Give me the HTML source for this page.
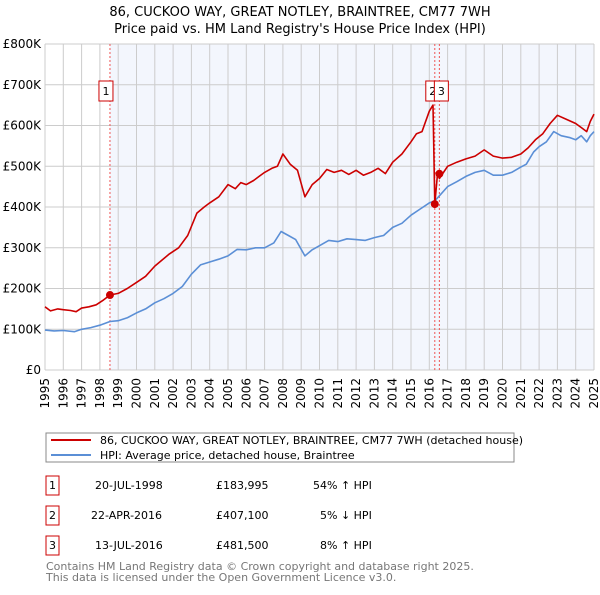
<!DOCTYPE html>
<html><head><meta charset="utf-8"><style>
body{margin:0;background:#fff;font-family:"Liberation Sans","DejaVu Sans",sans-serif;}
svg text{font-family:"DejaVu Sans","Liberation Sans",sans-serif;}
</style></head><body>
<svg id="c" width="600" height="590" xmlns="http://www.w3.org/2000/svg">
<text x="300" y="16" text-anchor="middle" font-size="13" fill="#000">86, CUCKOO WAY, GREAT NOTLEY, BRAINTREE, CM77 7WH</text>
<text x="300" y="33" text-anchor="middle" font-size="13" fill="#000">Price paid vs. HM Land Registry's House Price Index (HPI)</text>
<g id="plot"></g>
<g>
<rect x="46" y="433" width="468" height="29" fill="#fff" stroke="#888"/>
<line x1="51" y1="440" x2="91" y2="440" stroke="#cc0000" stroke-width="2"/>
<text x="100" y="444" font-size="11">86, CUCKOO WAY, GREAT NOTLEY, BRAINTREE, CM77 7WH (detached house)</text>
<line x1="51" y1="455" x2="91" y2="455" stroke="#5b8fd6" stroke-width="2"/>
<text x="100" y="459" font-size="11">HPI: Average price, detached house, Braintree</text>
</g>
<g font-size="11">
<rect x="46" y="476" width="13" height="19" fill="#fff" stroke="#cc0000"/><text x="52.5" y="489" text-anchor="middle">1</text>
<text x="95" y="489">20-JUL-1998</text><text x="216" y="489">£183,995</text><text x="313" y="489">54% ↑ HPI</text>
<rect x="46" y="506" width="13" height="19" fill="#fff" stroke="#cc0000"/><text x="52.5" y="519" text-anchor="middle">2</text>
<text x="91" y="519">22-APR-2016</text><text x="216" y="519">£407,100</text><text x="320" y="519">5% ↓ HPI</text>
<rect x="46" y="536" width="13" height="19" fill="#fff" stroke="#cc0000"/><text x="52.5" y="549" text-anchor="middle">3</text>
<text x="95" y="549">13-JUL-2016</text><text x="216" y="549">£481,500</text><text x="320" y="549">8% ↑ HPI</text>
</g>
<text x="46" y="570" font-size="11" fill="#777">Contains HM Land Registry data © Crown copyright and database right 2025.</text>
<text x="46" y="581" font-size="11" fill="#777">This data is licensed under the Open Government Licence v3.0.</text>
</svg>
<script>
const yTicks=[0,100,200,300,400,500,600,700,800];
const yTickLabels=["£0","£100K","£200K","£300K","£400K","£500K","£600K","£700K","£800K"];
const years=[1995,1996,1997,1998,1999,2000,2001,2002,2003,2004,2005,2006,2007,2008,2009,2010,2011,2012,2013,2014,2015,2016,2017,2018,2019,2020,2021,2022,2023,2024,2025];
const hpiT=[1995,1995.5,1996,1996.6,1997,1997.5,1998,1998.55,1999,1999.5,2000,2000.5,2001,2001.5,2002,2002.5,2003,2003.5,2004,2004.5,2005,2005.5,2006,2006.5,2007,2007.5,2007.9,2008.3,2008.7,2009.2,2009.6,2010,2010.5,2011,2011.5,2012,2012.5,2013,2013.5,2014,2014.5,2015,2015.5,2016,2016.3,2016.6,2017,2017.5,2018,2018.5,2019,2019.5,2020,2020.5,2021,2021.3,2021.7,2022,2022.4,2022.8,2023.2,2023.7,2024,2024.3,2024.6,2024.8,2025];
const hpiV=[98,96,97,94,100,104,110,119,121,128,140,150,165,175,188,205,235,258,265,272,280,296,295,300,300,312,340,330,320,280,295,305,318,315,322,320,318,325,330,350,360,380,395,410,415,430,450,462,475,485,490,478,478,485,498,505,535,548,560,585,575,570,565,575,560,575,585];
const redT=[1995,1995.3,1995.7,1996,1996.4,1996.7,1997,1997.4,1997.8,1998.2,1998.55,1999,1999.5,2000,2000.5,2001,2001.4,2001.8,2002.3,2002.8,2003.3,2003.7,2004,2004.5,2005,2005.4,2005.7,2006,2006.4,2006.7,2007,2007.4,2007.7,2008,2008.4,2008.8,2009.2,2009.6,2010,2010.4,2010.8,2011.2,2011.6,2012,2012.4,2012.8,2013.2,2013.6,2014,2014.5,2015,2015.3,2015.6,2016,2016.2,2016.3,2016.45,2016.55,2017,2017.5,2018,2018.5,2019,2019.5,2020,2020.5,2021,2021.4,2021.8,2022.2,2022.6,2023,2023.5,2024,2024.3,2024.6,2024.8,2025];
const redV=[155,145,150,148,146,143,152,155,160,172,184,188,200,215,230,255,270,285,300,330,385,400,410,425,455,445,460,455,465,475,485,495,500,530,505,490,425,455,470,492,485,490,480,490,478,485,495,482,510,530,560,580,585,635,650,407,481,470,500,510,518,525,540,525,520,522,530,545,565,580,605,625,615,605,595,585,610,628];
const sales=[[1998.55,184.0,"1"],[2016.3,407.1,"2"],[2016.55,481.5,"3"]];
const X0=45,X1=594,Y0=370,Y1=44;
const xs=t=>X0+(t-1995)/(2025-1995)*(X1-X0);
const ys=v=>Y0-v/800*(Y0-Y1);
const NS="http://www.w3.org/2000/svg";
const g=document.getElementById('plot');
function mk(tag,attrs,parent){const e=document.createElementNS(NS,tag);for(const k in attrs)e.setAttribute(k,attrs[k]);(parent||g).appendChild(e);return e;}
let e=mk('rect',{x:xs(sales[0][0]),y:Y1,width:X1-xs(sales[0][0]),height:Y0-Y1,fill:'#f3f6fd'});


years.forEach((yr,i)=>{
 const l=mk('line',{x1:xs(yr),x2:xs(yr),y1:Y1,y2:Y0,stroke:'#cccccc','stroke-width':1});
 
 
 const t=mk('text',{x:0,y:0,'font-size':12,'text-anchor':'end',transform:`translate(${xs(yr)+4},${Y0+8}) rotate(-90)`});
 t.textContent=yr;
 
 
});
yTicks.forEach((v,i)=>{
 const l=mk('line',{x1:X0,x2:X1,y1:ys(v),y2:ys(v),stroke:'#cccccc','stroke-width':1});
 
 
 const t=mk('text',{x:41,y:ys(v)+4,'font-size':12,'text-anchor':'end'});
 t.textContent=yTickLabels[i];
 
 
});
sales.forEach(s=>{
 const l=mk('line',{x1:xs(s[0]),x2:xs(s[0]),y1:Y1,y2:Y0,stroke:'#ee5555','stroke-width':1,'stroke-dasharray':'2,2'});
 
 
});
function path(T,V,col,name){
 const d=T.map((t,i)=>(i?'L':'M')+xs(t).toFixed(1)+','+ys(V[i]).toFixed(1)).join('');
 const p=mk('path',{d:d,fill:'none',stroke:col,'stroke-width':1.6,'stroke-linejoin':'round'});
 
 
}
path(hpiT,hpiV,'#5b8fd6','hpi-line');
path(redT,redV,'#cc0000','property-price-line');
sales.forEach(s=>{
 const c=mk('circle',{cx:xs(s[0]),cy:ys(s[1]),r:4,fill:'#cc0000'});
 
 
});
const bx=[[xs(sales[0][0])-11,"1"],[xs(sales[1][0])-9,"2"],[xs(sales[2][0])-5,"3"]];
bx.forEach(b=>{
 const r=mk('rect',{x:b[0],y:81,width:14,height:20,fill:'#fff',stroke:'#cc0000'});
 
 
 const t=mk('text',{x:b[0]+7,y:95,'font-size':11,'text-anchor':'middle'});
 t.textContent=b[1];
 
 
});
</script>
</body></html>
